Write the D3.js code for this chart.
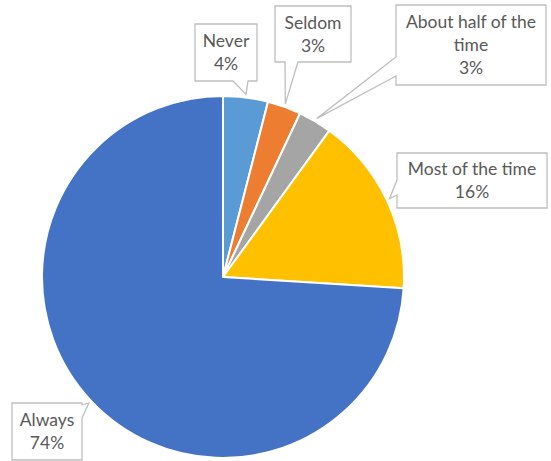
<!DOCTYPE html>
<html>
<head>
<meta charset="utf-8">
<script src="https://cdn.jsdelivr.net/npm/d3@7"></script>
<style>
  html, body { margin: 0; padding: 0; background: #fff; }
  svg { display: block; }
</style>
</head>
<body>
<script>
// Survey answer share, clockwise from 12 o'clock
const categories = ["Never", "Seldom", "About half of the time", "Most of the time", "Always"];
const values = [4, 3, 3, 16, 74];
const labelLines = [["Never"], ["Seldom"], ["About half of the", "time"], ["Most of the time"], ["Always"]];
const colors = ["#5B9BD5", "#ED7D31", "#A5A5A5", "#FFC000", "#4472C4"];

const W = 551, H = 461;
const cx = 223, cy = 277, R = 181;

// Callout boxes: rectangle, the edge carrying the pointer, and the notch span on that edge
const boxes = [
  { x: 195, y: 24, w: 62, h: 57, side: "bottom", n: [233, 248] },
  { x: 275, y: 6, w: 76, h: 56, side: "bottom", n: [285, 298] },
  { x: 396, y: 5, w: 150, h: 80, side: "left", n: [57, 76] },
  { x: 397, y: 153, w: 150, h: 55, side: "left", n: [180, 195] },
  { x: 12, y: 403, w: 70, h: 57, side: "right", n: [405, 418] }
];

const svg = d3.select("body").append("svg").attr("width", W).attr("height", H);

const data = categories.map((c, i) => ({ cat: c, value: values[i], i }));
const pie = d3.pie().value(d => d.value).sort(null);
const arcs = pie(data);
const arc = d3.arc().innerRadius(0).outerRadius(R);

const g = svg.append("g").attr("transform", `translate(${cx},${cy})`);
g.selectAll("path.slice")
  .data(arcs)
  .join("path")
  .attr("class", "slice")
  .attr("d", arc)
  .attr("fill", d => colors[d.data.i])
  .attr("stroke", "#fff")
  .attr("stroke-width", 2)
  .attr("stroke-linejoin", "round");

// Pointer tip sits just outside the slice's outer edge at its middle angle
const tipArc = d3.arc().innerRadius(R + 3).outerRadius(R + 3);
function tipOf(a) {
  const [x, y] = tipArc.centroid(a);
  return [cx + x, cy + y];
}

function calloutPath(b, tip) {
  const x0 = b.x, y0 = b.y, x1 = b.x + b.w, y1 = b.y + b.h;
  const p = d3.path();
  p.moveTo(x0, y0);
  p.lineTo(x1, y0);
  if (b.side === "right") {
    p.lineTo(x1, b.n[0]); p.lineTo(tip[0], tip[1]); p.lineTo(x1, b.n[1]);
  }
  p.lineTo(x1, y1);
  if (b.side === "bottom") {
    p.lineTo(b.n[1], y1); p.lineTo(tip[0], tip[1]); p.lineTo(b.n[0], y1);
  }
  p.lineTo(x0, y1);
  if (b.side === "left") {
    p.lineTo(x0, b.n[1]); p.lineTo(tip[0], tip[1]); p.lineTo(x0, b.n[0]);
  }
  p.closePath();
  return p.toString();
}

const labels = svg.append("g").selectAll("g.label")
  .data(arcs)
  .join("g")
  .attr("class", "label");

labels.append("path")
  .attr("d", d => calloutPath(boxes[d.data.i], tipOf(d)))
  .attr("fill", "#fff")
  .attr("stroke", "#BFBFBF")
  .attr("stroke-width", 1.3)
  .attr("stroke-linejoin", "miter");

const lineH = 23;
labels.each(function (d) {
  const b = boxes[d.data.i];
  const lines = labelLines[d.data.i].concat([d3.format(".0f")(d.data.value) + "%"]);
  const mid = b.y + b.h / 2;
  const first = mid - (lines.length - 1) * lineH / 2;
  d3.select(this).append("text")
    .attr("font-family", "Lato, Carlito, Calibri, sans-serif")
    .attr("font-size", 17.5)
    .attr("fill", "#595959")
    .attr("text-anchor", "middle")
    .selectAll("tspan")
    .data(lines)
    .join("tspan")
    .attr("x", b.x + b.w / 2)
    .attr("y", (l, k) => first + k * lineH)
    .attr("dy", "0.35em")
    .text(l => l);
});
</script>
</body>
</html>
